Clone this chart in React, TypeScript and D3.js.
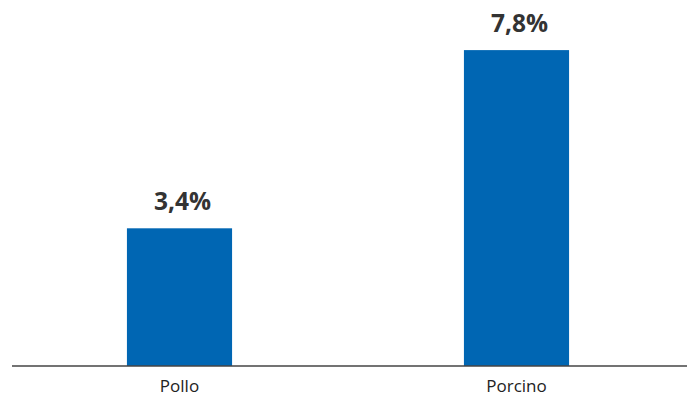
import React from "react";
import * as d3 from "d3";

const categories = ["Pollo", "Porcino"];
const values = [3.4, 7.8];
const valueLabels = ["3,4%", "7,8%"];

const W = 687;
const H = 398;

export default function App() {
  const x = d3.scaleBand<string>().domain(categories).range([11, 685]).padding(0);
  const y = d3.scaleLinear().domain([0, 8]).range([366, 366 - 8 * 40.5]);
  const bw = x.bandwidth() * 0.312;
  const font = "'Open Sans', 'DejaVu Sans', sans-serif";
  return (
    <svg
      width={W}
      height={H}
      style={{ position: "absolute", left: 0, top: 0, background: "#fff" }}
    >
      {categories.map((c, i) => {
        const cx = (x(c) as number) + x.bandwidth() / 2;
        return (
          <g key={c}>
            <rect
              x={cx - bw / 2}
              y={y(values[i])}
              width={bw}
              height={y(0) - y(values[i])}
              fill="#0066b3"
            />
            <text
              x={cx + 3}
              y={y(values[i]) - 18}
              textAnchor="middle"
              fontFamily={font}
              fontWeight={700}
              fontSize={24.5}
              fill="#333333"
            >
              {valueLabels[i]}
            </text>
            <text
              x={cx}
              y={392}
              textAnchor="middle"
              fontFamily={font}
              fontSize={17}
              fill="#222222"
            >
              {c}
            </text>
          </g>
        );
      })}
      <line x1={12} x2={687} y1={366} y2={366} stroke="#444" strokeWidth={1.5} />
    </svg>
  );
}
